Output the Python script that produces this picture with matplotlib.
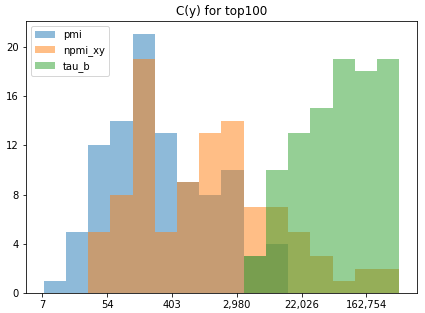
import numpy as np
import matplotlib
matplotlib.use("Agg")
import matplotlib.pyplot as plt
from matplotlib.ticker import FuncFormatter

# log-space bin edges shared by all three histograms
bin_lo, bin_hi, n_bins = 2.04, 13.01, 16
pmi = [1, 5, 12, 14, 21, 13, 9, 8, 10, 3, 4, 0, 0, 0, 0, 0]
npmi_xy = [0, 0, 5, 8, 19, 5, 9, 13, 14, 7, 7, 5, 3, 1, 2, 2]
tau_b = [0, 0, 0, 0, 0, 0, 0, 0, 0, 3, 10, 13, 15, 19, 18, 19]
names = ["pmi", "npmi_xy", "tau_b"]

edges = np.linspace(bin_lo, bin_hi, n_bins + 1)
centers = (edges[:-1] + edges[1:]) / 2

fig, ax = plt.subplots(figsize=(425 / 72, 313 / 72), dpi=72)
fig.subplots_adjust(left=0.061, right=0.981, bottom=0.063, top=0.932)

for name, counts in zip(names, [pmi, npmi_xy, tau_b]):
    ax.hist(centers, bins=edges, weights=counts, alpha=0.5, label=name)

ax.set_xticks([2, 4, 6, 8, 10, 12])
ax.xaxis.set_major_formatter(FuncFormatter(lambda x, p: "{:,}".format(int(np.exp(x)))))
ax.set_yticks([0, 4, 8, 12, 16, 20])
ax.set_title("C(y) for top100")
ax.legend(loc="upper left")

fig.savefig("out.png", dpi=72)
